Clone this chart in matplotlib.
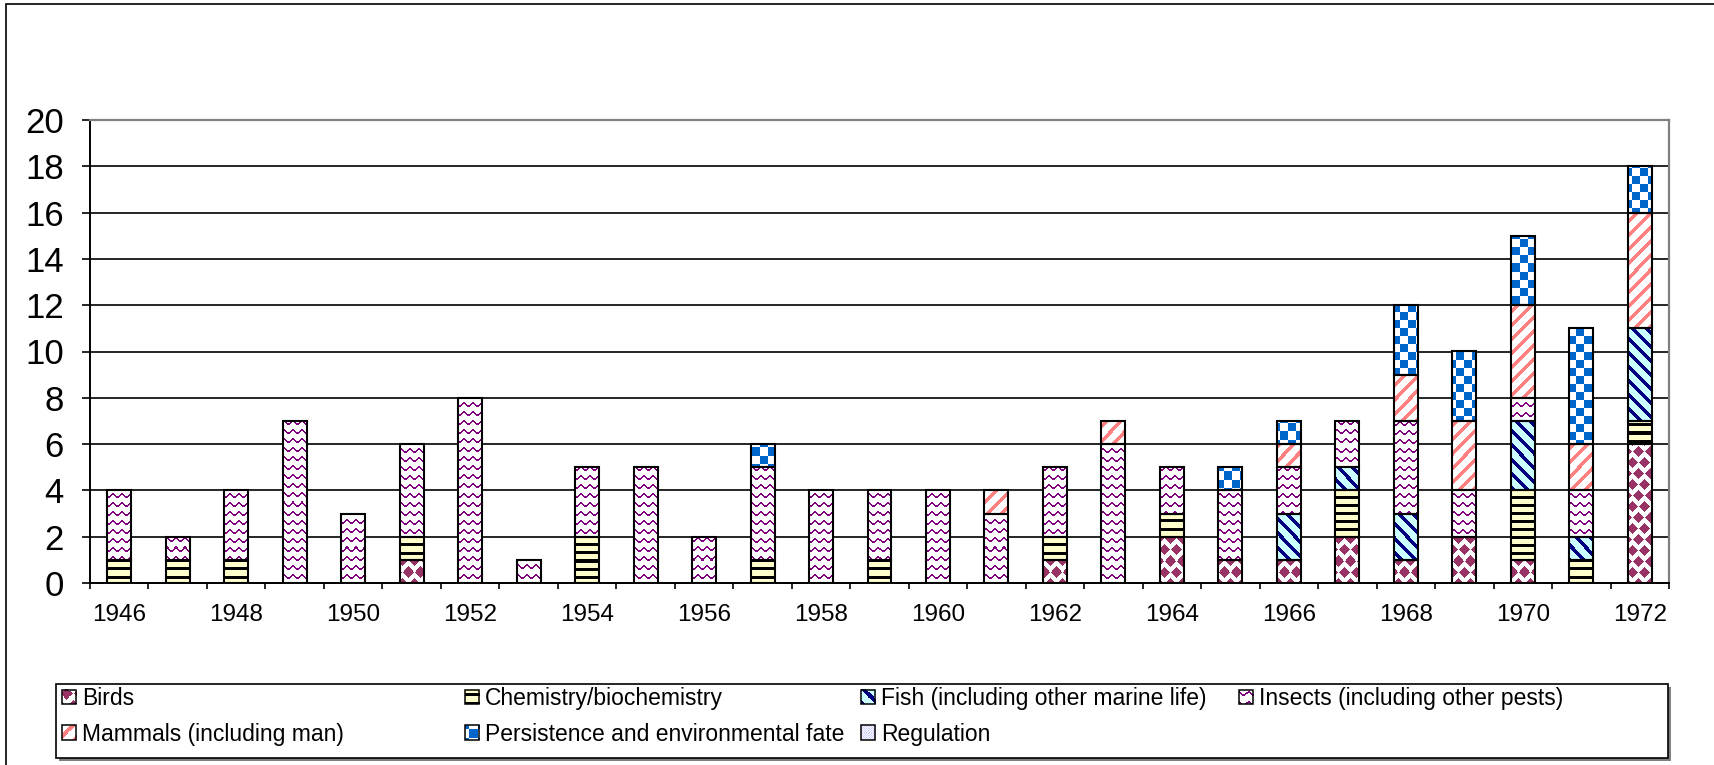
import numpy as np
import matplotlib
matplotlib.use("Agg")
import matplotlib.pyplot as plt
from matplotlib.patches import Rectangle, Patch
from matplotlib.legend_handler import HandlerBase
from matplotlib.image import BboxImage
from matplotlib.transforms import Bbox, TransformedBbox
from matplotlib.ticker import FixedLocator, NullFormatter, FixedFormatter

# ---------------- data ----------------
years = list(range(1946, 1973))
birds      = [0, 0, 0, 0, 0, 1, 0, 0, 0, 0, 0, 0, 0, 0, 0, 0, 1, 0, 2, 1, 1, 2, 1, 2, 1, 0, 6]
chemistry  = [1, 1, 1, 0, 0, 1, 0, 0, 2, 0, 0, 1, 0, 1, 0, 0, 1, 0, 1, 0, 0, 2, 0, 0, 3, 1, 1]
fish       = [0, 0, 0, 0, 0, 0, 0, 0, 0, 0, 0, 0, 0, 0, 0, 0, 0, 0, 0, 0, 2, 1, 2, 0, 3, 1, 4]
insects    = [3, 1, 3, 7, 3, 4, 8, 1, 3, 5, 2, 4, 4, 3, 4, 3, 3, 6, 2, 3, 2, 2, 4, 2, 1, 2, 0]
mammals    = [0, 0, 0, 0, 0, 0, 0, 0, 0, 0, 0, 0, 0, 0, 0, 1, 0, 1, 0, 0, 1, 0, 2, 3, 4, 2, 5]
persistence= [0, 0, 0, 0, 0, 0, 0, 0, 0, 0, 0, 1, 0, 0, 0, 0, 0, 0, 0, 1, 1, 0, 3, 3, 3, 5, 2]
regulation = [0] * 27
series_names = ["Birds", "Chemistry/biochemistry", "Fish (including other marine life)",
                "Insects (including other pests)", "Mammals (including man)",
                "Persistence and environmental fate", "Regulation"]
series_values = [birds, chemistry, fish, insects, mammals, persistence, regulation]
yticks = list(range(0, 21, 2))
xlabel_years = list(range(1946, 1973, 2))

# ---------------- style ----------------
plt.rcParams["font.family"] = ["Liberation Sans", "DejaVu Sans"]
W, H, DPI = 1715, 765, 100

PAT = {
    "Birds": ("#993366", "#FFFFFF"),
    "Chemistry/biochemistry": ("#000000", "#FFFFCC"),
    "Fish (including other marine life)": ("#000080", "#CCFFFF"),
    "Insects (including other pests)": ("#800080", "#FFFFFF"),
    "Mammals (including man)": ("#FF8080", "#FFFFFF"),
    "Persistence and environmental fate": ("#0066CC", "#FFFFFF"),
    "Regulation": ("#CCCCFF", "#FFFFFF"),
}


def texture(name, X, Y):
    fg, bg = PAT[name]
    if name == "Birds":
        n = np.floor((Y + 5.5) / 11.0)
        off = np.where(n % 2 == 0, 0, 6)
        dx = np.abs(((X - off + 6) % 12) - 6)
        dy = np.abs(Y - 11 * n)
        m = dx / 5.0 + dy / 6.0 <= 1.0
    elif name.startswith("Chemistry"):
        m = (Y % 8) < 3
    elif name.startswith("Fish"):
        m = ((X - Y) % 14) < 5
    elif name.startswith("Insects"):
        yc = 1.6 * np.cos(2 * np.pi * X / 9.0)
        d = (Y - yc) % 9
        m = (d < 0.9) | (d > 8.1)
    elif name.startswith("Mammals"):
        m = ((X + Y) % 14) < 5
    elif name.startswith("Persistence"):
        m = ((X // 8) + (Y // 8)) % 2 == 0
    else:
        m = ((X + Y) % 2) == 0
    img = np.empty(X.shape + (3,))
    img[:] = matplotlib.colors.to_rgb(bg)
    img[m] = matplotlib.colors.to_rgb(fg)
    return img


fig = plt.figure(figsize=(W / DPI, H / DPI), dpi=DPI)
fig.patch.set_facecolor("white")
L, R, T, B = 90, 1669, 120, 583
ax = fig.add_axes([L / W, 1 - B / H, (R - L) / W, (B - T) / H])
xlim = (-0.5, len(years) - 0.5)
ax.set_xlim(*xlim)
ax.set_ylim(0, 20)

x = np.arange(len(years))
bw = 0.41
bottom = np.zeros(len(years))
segments = []
for name, vals in zip(series_names, series_values):
    v = np.array(vals, float)
    bars = ax.bar(x, v, bw, bottom=bottom, facecolor="none", edgecolor="black",
                  linewidth=1.5, zorder=4)
    for rect, val in zip(bars, v):
        if val > 0:
            segments.append((rect, name))
        else:
            rect.set_visible(False)
    bottom += v

for rect, name in segments:
    x0, y0 = rect.get_x(), rect.get_y()
    x1, y1 = x0 + rect.get_width(), y0 + rect.get_height()
    (px0, py0), (px1, py1) = ax.transData.transform([(x0, y0), (x1, y1)])
    c0, c1 = int(round(px0)), int(round(px1))
    r0, r1 = int(round(H - py1)), int(round(H - py0))
    X, Y = np.meshgrid(np.arange(c0, max(c1, c0 + 1)), np.arange(r0, max(r1, r0 + 1)))
    ax.imshow(texture(name, X, Y), extent=(x0, x1, y0, y1), origin="upper",
              interpolation="nearest", aspect="auto", zorder=3)

ax.set_xlim(*xlim)
ax.set_ylim(0, 20)

# grid & spines
ax.set_axisbelow(True)
ax.yaxis.grid(True, color="black", linewidth=1.2)
ax.xaxis.grid(False)
for s in ["left", "bottom"]:
    ax.spines[s].set_color("black")
    ax.spines[s].set_linewidth(1.4)
for s in ["top", "right"]:
    ax.spines[s].set_color("#808080")
    ax.spines[s].set_linewidth(1.6)

ax.set_yticks(yticks)
ax.set_yticklabels([str(t) for t in yticks])
ax.tick_params(axis="y", direction="out", length=5.8, width=1.2, pad=13, labelsize=25)

ax.xaxis.set_major_locator(FixedLocator(np.arange(-0.5, len(years), 1.0)))
ax.xaxis.set_major_formatter(NullFormatter())
label_pos = [years.index(y) for y in xlabel_years]
ax.xaxis.set_minor_locator(FixedLocator(label_pos))
ax.xaxis.set_minor_formatter(FixedFormatter([str(y) for y in xlabel_years]))
ax.tick_params(axis="x", which="major", direction="out", length=4.3, width=1.2)
ax.tick_params(axis="x", which="minor", length=0, pad=15, labelsize=17.5)

# outer frame (continues beyond the image at right/bottom)
fig.patches.append(Rectangle((6 / W, -20 / H), (W + 20 - 6) / W, (H + 16) / H,
                             transform=fig.transFigure, fill=False, edgecolor="black",
                             linewidth=1.2, clip_on=False, zorder=0))

# legend frame with shadow
lx0, ly0, lx1, ly1 = 56, 684, 1668, 758
fig.patches.append(Rectangle(((lx0 + 3) / W, 1 - (ly1 + 3) / H), (lx1 - lx0) / W, (ly1 - ly0) / H,
                             transform=fig.transFigure, facecolor="#808080", edgecolor="none",
                             zorder=1))
fig.patches.append(Rectangle((lx0 / W, 1 - ly1 / H), (lx1 - lx0) / W, (ly1 - ly0) / H,
                             transform=fig.transFigure, facecolor="white", edgecolor="black",
                             linewidth=1.2, zorder=2))


class HandlerTexture(HandlerBase):
    def __init__(self, img):
        super().__init__()
        self.img = img

    def create_artists(self, legend, orig_handle, xdescent, ydescent, width, height,
                       fontsize, trans):
        bb = TransformedBbox(Bbox.from_bounds(-xdescent, -ydescent, width, height), trans)
        im = BboxImage(bb, interpolation="nearest")
        im.set_data(self.img)
        r = Rectangle((-xdescent, -ydescent), width, height, facecolor="none",
                      edgecolor="black", linewidth=1.1, transform=trans)
        return [im, r]


proxies = [Patch(label=n) for n in series_names]
hmap = {}
for p, n in zip(proxies, series_names):
    Xi, Yi = np.meshgrid(np.arange(14) - 4, np.arange(14) - 4)
    hmap[p] = HandlerTexture(texture(n, Xi, Yi))

col_x = [62, 465, 861, 1239]
columns = [[0, 4], [1, 5], [2, 6], [3]]
row_top = 687
for cx, idxs in zip(col_x, columns):
    fig.legend([proxies[i] for i in idxs], [series_names[i] for i in idxs],
               loc="upper left", bbox_to_anchor=(cx / W, 1 - row_top / H),
               frameon=False, borderpad=0, borderaxespad=0, handlelength=0.62,
               handleheight=0.62, handletextpad=0.25, labelspacing=0.55, fontsize=16.5,
               handler_map=hmap)

fig.savefig("out.png", dpi=DPI)
